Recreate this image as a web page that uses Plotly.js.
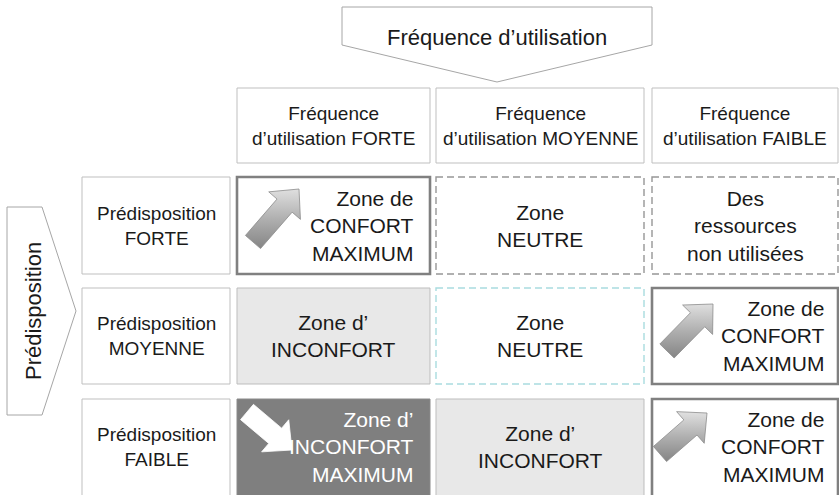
<!DOCTYPE html>
<html>
<head>
<meta charset="utf-8">
<script src="https://cdn.plot.ly/plotly-3.0.1.min.js"></script>
<style>html,body{margin:0;padding:0;background:#fff;}#chart{width:839px;height:495px;}</style>
</head>
<body>
<div id="chart"></div>
<script>
// ---- data ----
const topTitle = 'Fréquence d’utilisation';
const sideTitle = 'Prédisposition';
const colLabels = ['Fréquence<br>d’utilisation FORTE', 'Fréquence<br>d’utilisation MOYENNE', 'Fréquence<br>d’utilisation FAIBLE'];
const rowLabels = ['Prédisposition<br>FORTE', 'Prédisposition<br>MOYENNE', 'Prédisposition<br>FAIBLE'];
const cellTexts = [
  ['Zone de<br>CONFORT<br>MAXIMUM', 'Zone<br>NEUTRE', 'Des<br>ressources<br>non utilisées'],
  ['Zone d’<br>INCONFORT', 'Zone<br>NEUTRE', 'Zone de<br>CONFORT<br>MAXIMUM'],
  ['Zone d’<br>INCONFORT<br>MAXIMUM', 'Zone d’<br>INCONFORT', 'Zone de<br>CONFORT<br>MAXIMUM']
];
const cellZones = [
  ['confortMax', 'neutre', 'nonUtil'],
  ['inconfort', 'neutreCyan', 'confortMax'],
  ['inconfortMax', 'inconfort', 'confortMax']
];

// ---- layout geometry (pixel-like coordinates) ----
const W = 839, H = 495;
const labelCol = [82, 230];
const cols = [[237, 430], [436, 644], [652, 838]];
const headerRow = [88, 163];
const rows = [[177, 274], [288, 384], [399, 495]];
const FONT = 'Liberation Sans, Arial, sans-serif';
const TXT = '#1a1a1a';

const styles = {
  confortMax:  {fill: '#ffffff', line: '#808080', width: 2.6, dash: 'solid', text: TXT, align: 'right', arrow: 'up'},
  neutre:      {fill: '#ffffff', line: '#969696', width: 1.4, dash: '7px,4px', text: TXT, align: 'center'},
  nonUtil:     {fill: '#ffffff', line: '#969696', width: 1.4, dash: '7px,4px', text: TXT, align: 'center'},
  neutreCyan:  {fill: '#ffffff', line: '#a9dcdf', width: 1.4, dash: '7px,4px', text: TXT, align: 'center'},
  inconfort:   {fill: '#e8e8e8', line: '#bdbdbd', width: 1, dash: 'solid', text: TXT, align: 'center'},
  inconfortMax:{fill: '#7f7f7f', line: '#8a8a8a', width: 1, dash: 'solid', text: '#ffffff', align: 'right', arrow: 'down'}
};
// arrow placement per cell (cell-local tail / tip), style only
const arrowPlace = {
  '0,0': {t: [16, 65], p: [62, 12]},
  '1,2': {t: [15, 63], p: [61, 16]},
  '2,2': {t: [8, 55], p: [55, 14]},
  '2,0': {t: [10, 13], p: [55, 51]}
};

const shapes = [];
const annotations = [];
const traces = [];

function rect(x0, y0, x1, y1, fill, line, width, dash) {
  shapes.push({type: 'rect', xref: 'x', yref: 'y', x0: x0, y0: y0, x1: x1, y1: y1,
    fillcolor: fill, line: {color: line, width: width, dash: dash || 'solid'}, layer: 'below'});
}
function label(x, y, text, size, color, align, xanchor, angle) {
  annotations.push({x: x, y: y, xref: 'x', yref: 'y', text: text, showarrow: false,
    font: {family: FONT, size: size, color: color}, align: align || 'center',
    xanchor: xanchor || 'center', yanchor: 'middle', textangle: angle || 0});
}

// top pentagon arrow
shapes.push({type: 'path', xref: 'x', yref: 'y', layer: 'below',
  path: 'M342,7 L652,7 L652,45 L497,82 L342,45 Z', fillcolor: '#ffffff', line: {color: '#a6a6a6', width: 1}});
label(497, 37, topTitle, 22, TXT);
// left pentagon arrow
shapes.push({type: 'path', xref: 'x', yref: 'y', layer: 'below',
  path: 'M7,207 L42,207 L76,311 L42,415 L7,415 Z', fillcolor: '#ffffff', line: {color: '#a6a6a6', width: 1}});
label(33, 311, sideTitle, 22, TXT, 'center', 'center', -90);

// column headers
colLabels.forEach((t, j) => {
  rect(cols[j][0], headerRow[0], cols[j][1], headerRow[1], '#ffffff', '#bfbfbf', 1);
  label((cols[j][0] + cols[j][1]) / 2, (headerRow[0] + headerRow[1]) / 2, t, 19, TXT);
});
// row labels
rowLabels.forEach((t, i) => {
  const yb = i === rows.length - 1 ? rows[i][1] + 6 : rows[i][1];
  rect(labelCol[0], rows[i][0], labelCol[1], yb, '#ffffff', '#bfbfbf', 1);
  label((labelCol[0] + labelCol[1]) / 2, (rows[i][0] + rows[i][1]) / 2, t, 19, TXT);
});

function arrowPoly(tx, ty, px, py) {
  const dx = px - tx, dy = py - ty, L = Math.hypot(dx, dy);
  const ux = dx / L, uy = dy / L, nx = -uy, ny = ux;
  const sw = 10, hw = 21, hl = 22;
  const hx = px - ux * hl, hy = py - uy * hl;
  const pts = [
    [tx + nx * sw, ty + ny * sw], [hx + nx * sw, hy + ny * sw], [hx + nx * hw, hy + ny * hw],
    [px, py], [hx - nx * hw, hy - ny * hw], [hx - nx * sw, hy - ny * sw], [tx - nx * sw, ty - ny * sw],
    [tx + nx * sw, ty + ny * sw]
  ];
  return {x: pts.map(p => p[0]), y: pts.map(p => p[1])};
}

// cells
cellTexts.forEach((row, i) => {
  row.forEach((t, j) => {
    const st = styles[cellZones[i][j]];
    const x0 = cols[j][0], x1 = cols[j][1], y0 = rows[i][0];
    const y1 = i === rows.length - 1 ? rows[i][1] + 6 : rows[i][1];
    rect(x0, y0, x1, y1, st.fill, st.line, st.width, st.dash);
    const yc = (rows[i][0] + rows[i][1]) / 2;
    if (st.align === 'right') {
      label(x1 - (j === 2 ? 11 : 14), yc, t, 21, st.text, 'right', 'right');
    } else {
      label((x0 + x1) / 2, yc, t, 21, st.text);
    }
    const ap = arrowPlace[i + ',' + j];
    if (ap && st.arrow) {
      const poly = arrowPoly(x0 + ap.t[0], y0 + ap.t[1], x0 + ap.p[0], y0 + ap.p[1]);
      if (st.arrow === 'up') {
        traces.push({type: 'scatter', mode: 'lines', x: poly.x, y: poly.y, fill: 'toself',
          fillcolor: '#a8a8a8',
          fillgradient: {type: 'vertical', start: y0 + ap.p[1] - 4, stop: y0 + ap.t[1] + 10,
            colorscale: [[0, '#e6e6e6'], [0.5, '#b0b0b0'], [1, '#808080']]},
          line: {color: '#8c8c8c', width: 0.8}, hoverinfo: 'skip', showlegend: false});
      } else {
        traces.push({type: 'scatter', mode: 'lines', x: poly.x, y: poly.y, fill: 'toself',
          fillcolor: '#ffffff', line: {color: '#ffffff', width: 0.8}, hoverinfo: 'skip', showlegend: false});
      }
    }
  });
});

const layout = {
  width: W, height: H,
  margin: {l: 0, r: 0, t: 0, b: 0, pad: 0},
  paper_bgcolor: '#ffffff', plot_bgcolor: '#ffffff',
  xaxis: {range: [0, W], visible: false, fixedrange: true},
  yaxis: {range: [H, 0], visible: false, fixedrange: true},
  showlegend: false,
  shapes: shapes,
  annotations: annotations
};
Plotly.newPlot('chart', traces, layout, {staticPlot: true, displayModeBar: false});
</script>
</body>
</html>
